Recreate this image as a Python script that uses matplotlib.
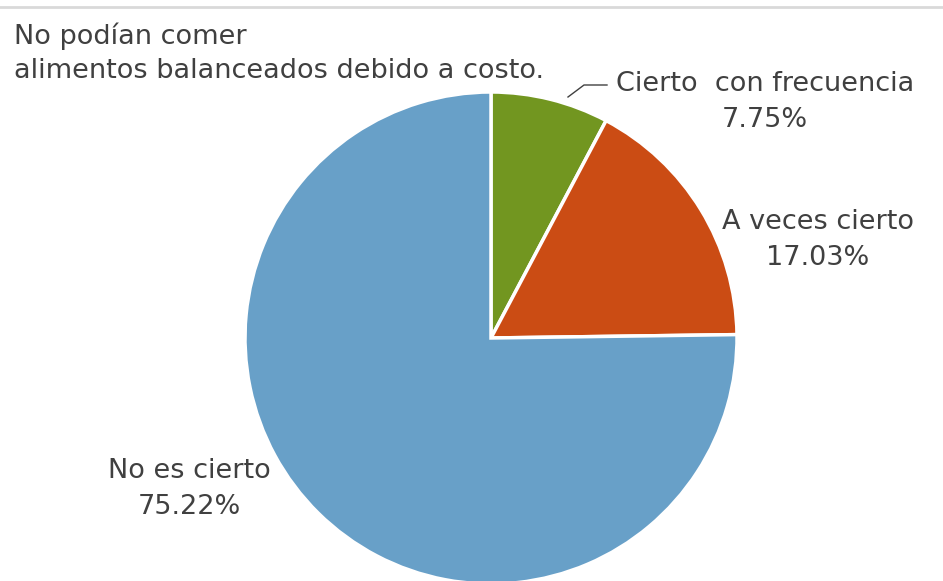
import numpy as np
import matplotlib.pyplot as plt
from matplotlib.lines import Line2D

labels = ['Cierto  con frecuencia', 'A veces cierto', 'No es cierto']
values = [7.75, 17.03, 75.22]
colors = ['#729620', '#CB4C14', '#68A0C8']
title = 'No podían comer\nalimentos balanceados debido a costo.'

W, H = 943, 581
fig = plt.figure(figsize=(W / 100, H / 100), dpi=100)
plt.rcParams['font.family'] = ['DejaVu Sans']
txt = '#404040'
fs = 19.5

# pie center and radius in pixels
cx, cy, r = 491, 338, 246
ax = fig.add_axes([(cx - r) / W, (H - cy - r) / H, 2 * r / W, 2 * r / H])
ax.pie(values, colors=colors, startangle=90, counterclock=False, radius=1,
       wedgeprops=dict(edgecolor='white', linewidth=2.5))
ax.set_xlim(-1, 1)
ax.set_ylim(-1, 1)
ax.set_aspect('equal')
ax.axis('off')
for p in ax.patches:
    p.set_clip_on(False)

def px(x, y):
    return x / W, 1 - y / H

# top border line
fig.add_artist(Line2D([0, 1], [1 - 7 / H, 1 - 7 / H], color='#d9d9d9', lw=2))

fig.text(*px(14, 53), title, ha='left', va='center', fontsize=fs, color=txt,
         linespacing=1.42)

pos = [(765, 102), (818, 240), (189, 489)]
for lab, v, (x, y) in zip(labels, values, pos):
    fig.text(*px(x, y), f'{lab}\n{v:.2f}%', ha='center', va='center',
             fontsize=fs, color=txt, linespacing=1.5)

# leader line for the small slice
lx = [568 / W, 584 / W, 607 / W]
ly = [1 - 97 / H, 1 - 85 / H, 1 - 85 / H]
fig.add_artist(Line2D(lx, ly, color='#404040', lw=1))

fig.savefig('out.png', dpi=100)
